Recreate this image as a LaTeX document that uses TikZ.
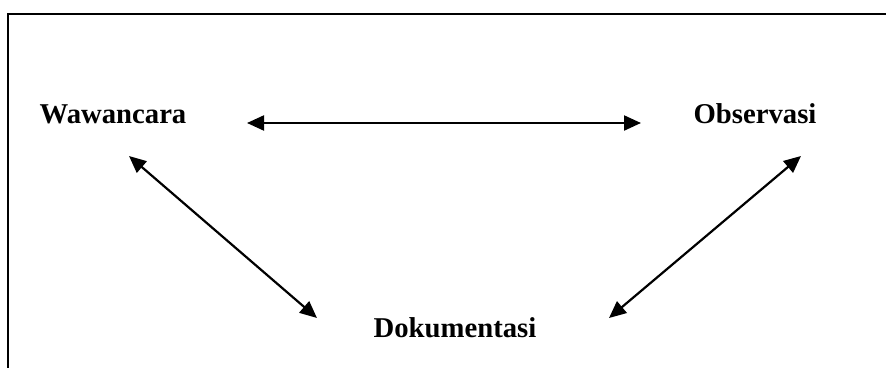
\documentclass[tikz,border=0pt]{standalone}
\usepackage{fontspec}
\setmainfont{Liberation Serif}
\usetikzlibrary{arrows.meta}
\begin{document}
\begin{tikzpicture}[x=1pt,y=-1pt,
  lbl/.style={font=\fontsize{28.7}{32}\selectfont\bfseries, inner sep=0pt, anchor=base},
  link/.style={line width=2.2pt, {Triangle[length=17pt,width=15pt]}-{Triangle[length=17pt,width=15pt]}},
  frame/.style={line width=2pt}]
\useasboundingbox (0,0) rectangle (886,367);
\fill[white] (0,0) rectangle (886,367);
\draw[frame] (8,368) -- (8,14) -- (887,14);
\node[lbl] (waw) at (113,123) {Wawancara};
\node[lbl] (obs) at (755,123) {Observasi};
\node[lbl] (dok) at (455,337) {Dokumentasi};
\coordinate (wR) at (247,123);
\coordinate (oL) at (641,123);
\coordinate (wB) at (129,156);
\coordinate (dL) at (317,318);
\coordinate (oB) at (801,156);
\coordinate (dR) at (609,318);
\draw[link] (wR) -- (oL);
\draw[link] (wB) -- (dL);
\draw[link] (oB) -- (dR);
\end{tikzpicture}
\end{document}
